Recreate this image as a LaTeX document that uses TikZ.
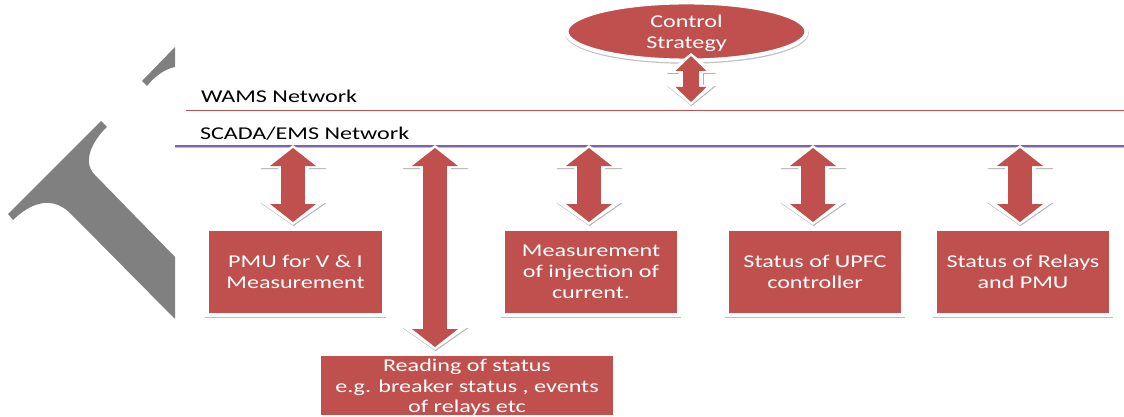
\documentclass[tikz,border=0pt]{standalone}
\usepackage{fontspec}
\setmainfont[FakeStretch=1.34]{Carlito}
\usetikzlibrary{arrows.meta,shapes.geometric}
\definecolor{boxred}{HTML}{C0504D}
\definecolor{linepurple}{HTML}{8064A2}
\tikzset{
	boxnode/.style={rectangle, draw=white, line width=4pt, fill=boxred, text=white, align=center, inner sep=0pt, outer sep=0pt,
		font=\fontsize{18}{21}\selectfont, preaction={draw=black!25, line width=4pt, transform canvas={xshift=0.3pt, yshift=-1.2pt}}},
	labelnode/.style={inner sep=0pt, outer sep=0pt, anchor=west, text=black, font=\fontsize{18}{21}\selectfont},
	bigarrow/.style={draw=boxred, line width=24pt, arrows={Triangle[length=18pt,width=45pt]-Triangle[length=18pt,width=45pt]},
		preaction={draw=black!30, line width=31pt, transform canvas={xshift=0.5pt, yshift=-1pt}, shorten <=-3pt, shorten >=-3pt, arrows={Triangle[length=23pt,width=65pt]-Triangle[length=23pt,width=65pt]}},
		preaction={draw=white, line width=31pt, shorten <=-3pt, shorten >=-3pt, arrows={Triangle[length=23pt,width=65pt]-Triangle[length=23pt,width=65pt]}}},
	smallarrow/.style={draw=boxred, line width=16pt, arrows={Triangle[length=15pt,width=30pt]-Triangle[length=15pt,width=30pt]},
		preaction={draw=black!30, line width=24pt, transform canvas={xshift=0.5pt, yshift=-1pt}, shorten <=-3pt, shorten >=-3pt, arrows={Triangle[length=20pt,width=48pt]-Triangle[length=20pt,width=48pt]}},
		preaction={draw=white, line width=24pt, shorten <=-3pt, shorten >=-3pt, arrows={Triangle[length=20pt,width=48pt]-Triangle[length=20pt,width=48pt]}}}
}
\begin{document}
\begin{tikzpicture}[x=1pt,y=-1pt]
	\useasboundingbox (0,0) rectangle (1124,417);

	% gray shapes on the left
	\fill[gray] (8,214) -- (101,121) -- (107,127) .. controls (96,137) and (80,160) .. (95,175) -- (175,257) -- (175,319) -- (72,215) .. controls (58,200) and (38,196) .. (13,220) -- cycle;
	\fill[gray] (175,47) -- (142,81) -- (147,86) .. controls (155,76) and (165,69) .. (175,67) -- cycle;

	% network lines
	\coordinate (wamsl) at (186,110);
	\coordinate (wamsr) at (1124,110);
	\coordinate (scadal) at (175,146);
	\coordinate (scadar) at (1124,146);
	\draw[gray!50, line width=1pt] ([yshift=-1.5pt]scadal) -- ([yshift=-1.5pt]scadar);
	\draw[boxred, line width=0.9pt] (wamsl) -- (wamsr);
	\draw[linepurple, line width=2pt] (scadal) -- (scadar);
	\node[labelnode] (wams) at (201,96) {WAMS Network};
	\node[labelnode] (scada) at (200,134) {SCADA/EMS Network};

	% boxes
	\node[boxnode, shape=ellipse, minimum width=240pt, minimum height=47pt] (control) at (686.5,31.5) {\rule{0pt}{17pt}Control\\Strategy};
	\node[boxnode, minimum width=177pt, minimum height=86pt] (pmu) at (295.5,272) {PMU for V \& I\\Measurement};
	\node[boxnode, minimum width=176pt, minimum height=86pt] (injection) at (591,272) {Measurement\\of injection of\\current.};
	\node[boxnode, minimum width=176pt, minimum height=86pt] (upfc) at (815,272) {Status of UPFC\\controller};
	\node[boxnode, minimum width=176pt, minimum height=86pt] (relays) at (1023,272) {Status of Relays\\and PMU};
	\node[boxnode, minimum width=296pt, minimum height=63pt, font=\fontsize{18}{20.5}\selectfont] (reading) at (467,385) {\rule{0pt}{17pt}Reading of status\\e.g. breaker status , events\\of relays etc};

	% arrows
	\coordinate (ctrltop) at (691,56);
	\coordinate (ctrlbot) at (691,102);
	\coordinate (pmutop) at (293,148);
	\coordinate (pmubot) at (293,222);
	\coordinate (readtop) at (435,148);
	\coordinate (readbot) at (435,347);
	\coordinate (injtop) at (589,148);
	\coordinate (injbot) at (589,222);
	\coordinate (upfctop) at (813,148);
	\coordinate (upfcbot) at (813,222);
	\coordinate (reltop) at (1020,148);
	\coordinate (relbot) at (1020,222);
	\draw[smallarrow] (ctrltop) -- (ctrlbot);
	\draw[bigarrow] (pmutop) -- (pmubot);
	\draw[bigarrow] (readtop) -- (readbot);
	\draw[bigarrow] (injtop) -- (injbot);
	\draw[bigarrow] (upfctop) -- (upfcbot);
	\draw[bigarrow] (reltop) -- (relbot);
\end{tikzpicture}
\end{document}
